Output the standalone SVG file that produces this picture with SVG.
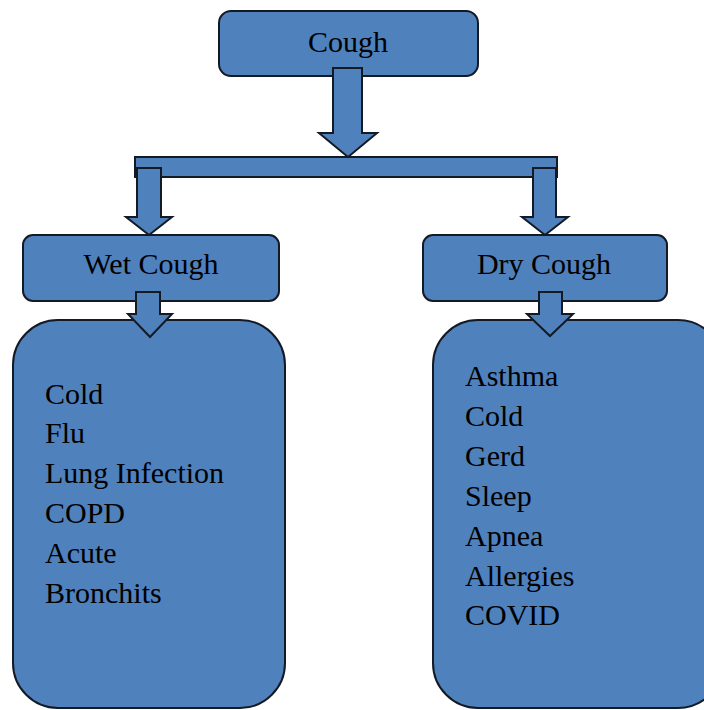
<svg xmlns="http://www.w3.org/2000/svg" width="704" height="710" viewBox="0 0 704 710">
<style>
.box{fill:#4F81BD;stroke:#141a24;stroke-width:2}
.arr{fill:#4F81BD;stroke:#141a24;stroke-width:2;stroke-linejoin:miter}
text{font-family:"Liberation Serif","Times New Roman",serif;font-size:30px;fill:#000}
.c{text-anchor:middle}
</style>
<rect width="704" height="710" fill="#fff"/>
<g id="cough">
<rect class="box" x="219" y="11" width="259" height="65" rx="12"/>
<text class="c" x="348" y="52">Cough</text>
</g>
<g id="wet">
<rect class="box" x="23" y="235" width="256" height="66" rx="10"/>
<text class="c" x="151" y="274">Wet Cough</text>
</g>
<g id="dry">
<rect class="box" x="423" y="235" width="244" height="66" rx="10"/>
<text class="c" x="544" y="274">Dry Cough</text>
</g>
<g id="wet-list">
<rect class="box" x="13" y="320" width="272" height="388" rx="45"/>
<text x="45" y="404">Cold</text>
<text x="45" y="443">Flu</text>
<text x="45" y="483">Lung Infection</text>
<text x="45" y="523">COPD</text>
<text x="45" y="563">Acute</text>
<text x="45" y="603">Bronchits</text>
</g>
<g id="dry-list">
<rect class="box" x="433" y="320" width="290" height="388" rx="45"/>
<text x="465" y="386">Asthma</text>
<text x="465" y="426">Cold</text>
<text x="465" y="466">Gerd</text>
<text x="465" y="506">Sleep</text>
<text x="465" y="546">Apnea</text>
<text x="465" y="586">Allergies</text>
<text x="465" y="625">COVID</text>
</g>
<g id="connectors">
<rect class="arr" x="135" y="157" width="422" height="20"/>
<path class="arr" d="M333,68 L362,68 L362,133 L377,133 L348,157 L319,133 L333,133 Z"/>
<path class="arr" d="M137,168 L161,168 L161,217 L172,217 L149,235 L126,217 L137,217 Z"/>
<path class="arr" d="M533,168 L556,168 L556,217 L568,217 L545,235 L522,217 L533,217 Z"/>
<path class="arr" d="M136,292 L160,292 L160,314 L172,314 L150,337 L128,314 L136,314 Z"/>
<path class="arr" d="M539,292 L562,292 L562,314 L573,314 L550,336 L527,314 L539,314 Z"/>
</g>
</svg>
